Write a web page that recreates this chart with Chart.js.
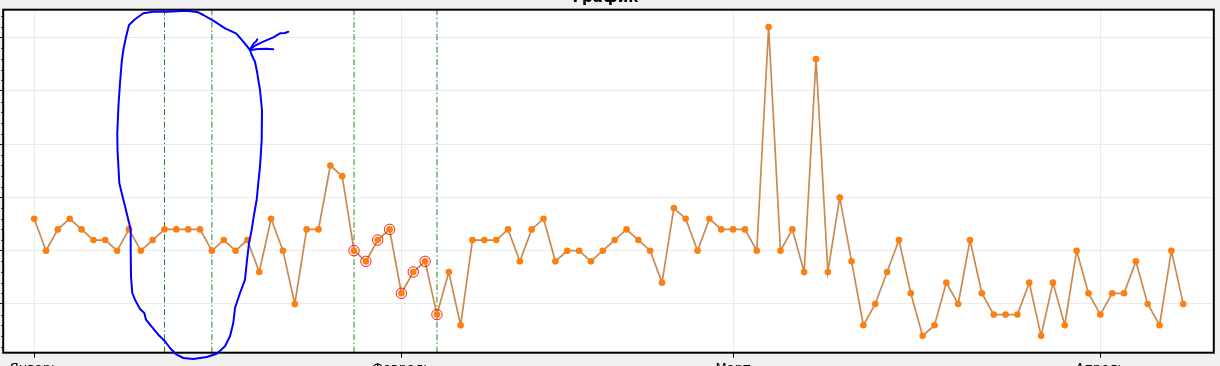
<!DOCTYPE html>
<html lang="ru">
<head>
<meta charset="utf-8">
<title>График</title>
<script src="https://cdn.jsdelivr.net/npm/chart.js@4.4.1/dist/chart.umd.min.js"></script>
<style>
  html, body { margin: 0; padding: 0; background: #f0f0f0; }
  #wrap { width: 1220px; height: 366px; overflow: hidden; position: relative; }
  #chart { position: absolute; left: -3px; top: -30px; }
</style>
</head>
<body>
<div id="wrap"><canvas id="chart" width="1223" height="396"></canvas></div>
<script>
// Данные (день от 1 января)
const monthLabels = ['Январь', 'Февраль', 'Март', 'Апрель'];
const monthStarts = [0, 31, 59, 90];
const dayValues = [
  3, 0, 2, 3, 2, 1, 1, 0, 2, 0,
  1, 2, 2, 2, 2, 0, 1, 0, 1, -2,
  3, 0, -5, 2, 2, 8, 7, 0, -1, 1,
  2, -4, -2, -1, -6, -2, -7, 1, 1, 1,
  2, -1, 2, 3, -1, 0, 0, -1, 0, 1,
  2, 1, 0, -3, 4, 3, 0, 3, 2, 2,
  2, 0, 21, 0, 2, -2, 18, -2, 5, -1,
  -7, -5, -2, 1, -4, -8, -7, -3, -5, 1,
  -4, -6, -6, -6, -3, -8, -3, -7, 0, -4,
  -6, -4, -4, -1, -5, -7, 0, -5
];
const markedDays = [27, 28, 29, 30, 31, 32, 33, 34];
const eventDays = [11, 15, 27, 34];
const yTicks = [-5, 0, 5, 10, 15, 20];

const Y_MIN = -9.58, Y_MAX = 22.63;
const X_MIN = -2.616, X_MAX = 99.58;
const SHIFT_X = 3, SHIFT_Y = 30; // холст сдвинут: заголовок и подписи обрезаны

// Рукописная пометка (пиксели экрана)
const scribbleLoop = [
  [119.3,183],[117.5,150],[117.3,133],[118.5,105],[120,83],[121.7,62],[123.3,50],[126,37],[129,25],
  [135,19.3],[143.3,13.3],[153.3,11.7],[166.7,11.7],[186.7,10.7],[198.3,12.3],[203.3,15],[213.3,20.7],
  [225,28.3],[236,33.3],[243.3,41.7],[250,50],[251.7,55],[255,61.7],[257.3,73.3],[260,90],[262,110],
  [261.7,140],[260,166.7],[258.3,183],[256.7,199.7],[254,214.7],[251.7,229.7],[249,243],[246.7,263],
  [245,279.7],[240,293],[235,308],[233.3,323],[230,336.3],[225,346.3],[216.7,353.7],[206.7,357],
  [193.3,359],[183.3,358],[176.7,354.7],[170,348],[165,341.3],[158.3,334.7],[150,324.7],[146,319.7],
  [144.3,313],[140,309],[135,299.7],[132.3,293],[131,276.3],[130.7,249.7],[130.7,229.7],[128.3,219.7],
  [125,206.3],[121.7,193],[119.3,183]
];
const scribbleArrow = [
  [[288.3,31.7],[285,33],[280,33.3],[273.3,37.3],[263.3,41.7],[255,45.7],[250,49.3]],
  [[250.7,48.3],[254,43],[256,41.5],[257.3,39.3]],
  [[250.7,50],[258,49],[266,48.8],[273.3,49.3]]
];

const plotBackground = {
  id: 'plotBackground',
  beforeDraw(chart) {
    const { ctx, chartArea: a } = chart;
    ctx.save();
    ctx.fillStyle = '#ffffff';
    ctx.fillRect(a.left, a.top, a.right - a.left, a.bottom - a.top);
    ctx.restore();
  }
};

const frameAndTicks = {
  id: 'frameAndTicks',
  afterDraw(chart) {
    const { ctx, chartArea: a, scales } = chart;
    const y = scales.y;
    ctx.save();
    // мелкие деления слева
    ctx.strokeStyle = '#000';
    ctx.lineWidth = 1;
    for (let v = Math.ceil(Y_MIN); v <= Math.floor(Y_MAX); v++) {
      if (v % 5 === 0) continue;
      const py = Math.round(y.getPixelForValue(v)) + 0.5;
      ctx.beginPath();
      ctx.moveTo(a.left - 2, py);
      ctx.lineTo(a.left, py);
      ctx.stroke();
    }
    // рамка
    ctx.lineWidth = 2;
    ctx.strokeRect(a.left, a.top, a.right - a.left, a.bottom - a.top);
    // синяя пометка
    ctx.strokeStyle = '#0000ff';
    ctx.lineWidth = 2;
    ctx.lineJoin = 'round';
    ctx.lineCap = 'round';
    [scribbleLoop, ...scribbleArrow].forEach(path => {
      ctx.beginPath();
      path.forEach(([px, py], i) => {
        if (i === 0) ctx.moveTo(px + SHIFT_X, py + SHIFT_Y);
        else ctx.lineTo(px + SHIFT_X, py + SHIFT_Y);
      });
      ctx.stroke();
    });
    ctx.restore();
  }
};

const datasets = [
  {
    label: 'Значения',
    data: dayValues.map((v, i) => ({ x: i, y: v })),
    borderColor: '#c98a52',
    borderWidth: 1.7,
    pointRadius: 3.3,
    pointBackgroundColor: '#ff7f0e',
    pointBorderWidth: 0,
    tension: 0,
    order: 2
  },
  {
    label: 'Отмеченные',
    data: markedDays.map(d => ({ x: d, y: dayValues[d] })),
    showLine: false,
    pointRadius: 5.2,
    pointBorderColor: 'rgba(255,0,0,0.9)',
    pointBorderWidth: 1,
    pointBackgroundColor: 'rgba(0,0,0,0)',
    order: 1
  }
];
eventDays.forEach(d => {
  datasets.push({
    label: 'Событие',
    data: [{ x: d, y: Y_MIN }, { x: d, y: Y_MAX }],
    borderColor: 'rgb(38,128,38)',
    borderWidth: 1,
    borderDash: [6, 2.5, 1.5, 2.5],
    pointRadius: 0,
    order: 3
  });
});

new Chart(document.getElementById('chart'), {
  type: 'line',
  data: { datasets },
  options: {
    responsive: false,
    animation: false,
    events: [],
    layout: { padding: { left: 0, right: 6, top: 0, bottom: 0 } },
    plugins: {
      legend: { display: false },
      tooltip: { enabled: false },
      title: {
        display: true,
        text: 'График',
        color: '#000',
        font: { family: 'DejaVu Sans', size: 15, weight: 'bold' },
        padding: { top: 19, bottom: 2.7 }
      }
    },
    scales: {
      x: {
        type: 'linear',
        min: X_MIN,
        max: X_MAX,
        afterBuildTicks: s => { s.ticks = monthStarts.map(v => ({ value: v })); },
        afterFit: s => { s.height = 396 - 382.7; },
        ticks: {
          callback: v => monthLabels[monthStarts.indexOf(v)] || '',
          color: '#000',
          font: { family: 'DejaVu Sans', size: 13 },
          padding: 3,
          maxRotation: 0,
          autoSkip: false
        },
        grid: { color: '#ebebeb', tickColor: '#000', tickLength: 5 },
        border: { display: false }
      },
      y: {
        type: 'linear',
        min: Y_MIN,
        max: Y_MAX,
        afterBuildTicks: s => { s.ticks = yTicks.map(v => ({ value: v })); },
        afterFit: s => { s.width = 0; },
        ticks: { display: false },
        grid: { color: '#ebebeb', tickColor: '#000', tickLength: 3 },
        border: { display: false }
      }
    }
  },
  plugins: [plotBackground, frameAndTicks]
});
</script>
</body>
</html>
